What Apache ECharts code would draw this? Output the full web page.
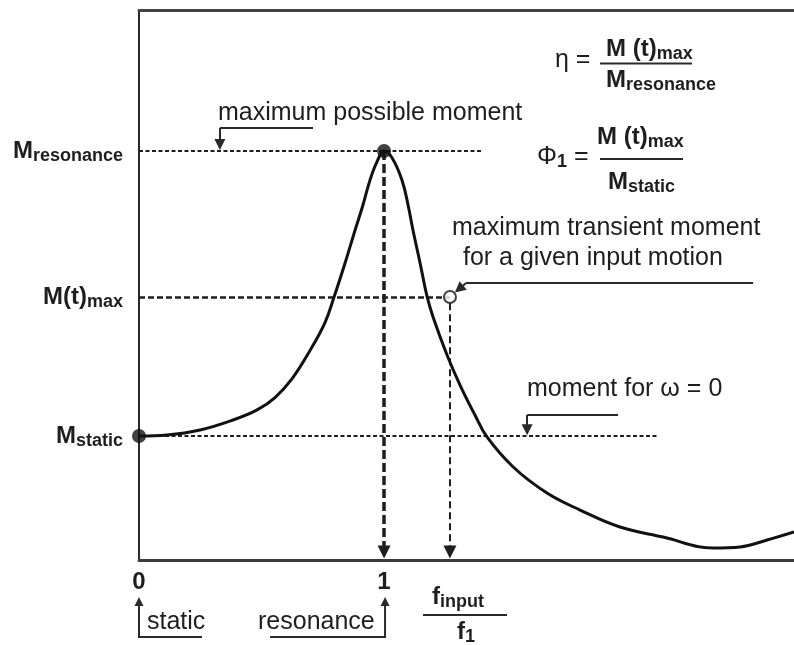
<!DOCTYPE html>
<html><head><meta charset="utf-8">
<script src="https://cdn.jsdelivr.net/npm/echarts@6/dist/echarts.min.js"></script>
<style>html,body{margin:0;padding:0;background:#fff}#c{width:794px;height:645px}</style>
</head><body><div id="c"></div>
<script>
// Response curve: frequency ratio f_input/f1 (x) vs. moment, relative to M_static (y)
const freqRatio = [0, 0.114, 0.249, 0.384, 0.482, 0.555, 0.624, 0.698, 0.759, 0.796, 0.841, 0.882, 0.914, 0.943, 0.971, 1.0,
  1.033, 1.073, 1.098, 1.118, 1.147, 1.176, 1.2, 1.257, 1.31, 1.371, 1.42, 1.527, 1.665, 1.8, 1.963, 2.139, 2.343, 2.453, 2.563, 2.673];
const moment = [1.0, 1.008, 1.048, 1.129, 1.21, 1.31, 1.46, 1.69, 1.915, 2.121, 2.395, 2.661, 2.863, 3.065, 3.21, 3.298,
  3.242, 3.065, 2.863, 2.661, 2.395, 2.121, 1.96, 1.653, 1.411, 1.169, 0.992, 0.75, 0.54, 0.403, 0.266, 0.185, 0.097, 0.105, 0.161, 0.226];

// Characteristic levels (y) and their labels
const levelValues = [1.0, 2.121, 3.298];          // M_static, M(t)_max, M_resonance
const levelMain = ['M', 'M(t)', 'M'];
const levelSub = ['static', 'max', 'resonance'];
const levelLineEnd = [2.118, 1.269, 1.404];       // how far each dashed guide runs (x)

// x ticks
const xTickValues = [0, 1];
const xTickLabels = ['0', '1'];

// Input frequency ratio of the transient point
const fInputRatio = 1.269;
const resonanceRatio = 1;

const FONT = '"Liberation Sans", Arial, sans-serif';
const INK = '#1e1e1e';

const chart = echarts.init(document.getElementById('c'), null, {renderer: 'canvas'});

const subRich = (off) => ({
  m: {fontSize: 24, fontWeight: 'bold', fontFamily: FONT, color: INK, fill: INK, lineHeight: 28},
  s: {fontSize: 18, fontWeight: 'bold', fontFamily: FONT, color: INK, fill: INK, lineHeight: 20,
      verticalAlign: 'bottom', padding: [off, 0, 0, 0]},
  n: {fontSize: 25, fontFamily: FONT, color: INK, fill: INK, lineHeight: 28}
});

const dashLevelStyles = [
  {type: [4, 2.5], width: 2, color: INK},
  {type: [6, 3], width: 2.5, color: INK},
  {type: [4, 2.5], width: 2, color: INK}
];

const option = {
  animation: false,
  grid: {left: 139, top: 10, right: 0, bottom: 85, outerBoundsMode: 'none', show: false},
  xAxis: [{
    type: 'value', min: 0, max: 2.673,
    splitLine: {show: false},
    axisLine: {show: true, onZero: false, lineStyle: {color: '#3c3c3c', width: 3}},
    axisTick: {show: false},
    axisLabel: {
      customValues: xTickValues,
      formatter: (v) => xTickLabels[xTickValues.indexOf(v)] ?? '',
      fontSize: 24, fontWeight: 'bold', fontFamily: FONT, color: INK, margin: 10
    }
  }, {
    type: 'value', min: 0, max: 2.673, position: 'top',
    splitLine: {show: false},
    axisLine: {show: true, onZero: false, lineStyle: {color: '#444', width: 3}},
    axisTick: {show: false}, axisLabel: {show: false}
  }],
  yAxis: {
    type: 'value', min: 0, max: 4.435,
    splitLine: {show: false},
    axisLine: {show: true, onZero: false, lineStyle: {color: '#2a2a2a', width: 2}},
    axisTick: {show: false},
    axisLabel: {
      customValues: levelValues,
      margin: 16,
      formatter: (v) => {
        let i = 0, best = Infinity;
        levelValues.forEach((lv, k) => { const d = Math.abs(lv - v); if (d < best) { best = d; i = k; } });
        return '{m|' + levelMain[i] + '}{s|' + levelSub[i] + '}';
      },
      rich: subRich(14)
    }
  },
  series: [
    {
      name: 'response', type: 'line', smooth: 0.4, symbol: 'none', z: 5, clip: false,
      lineStyle: {color: '#111', width: 3},
      data: freqRatio.map((x, i) => [x, moment[i]])
    },
    {
      name: 'guides', type: 'line', data: [], symbol: 'none', silent: true, z: 3,
      markLine: {
        silent: true, symbol: ['none', 'none'], label: {show: false}, animation: false,
        emphasis: {disabled: true},
        data: levelValues.map((lv, i) => [
          {coord: [0, lv], lineStyle: dashLevelStyles[i]},
          {coord: [levelLineEnd[i], lv]}
        ])
      }
    },
    {
      name: 'drops', type: 'line', data: [], symbol: 'none', silent: true, z: 3,
      markLine: {
        silent: true, symbol: ['none', 'triangle'], symbolSize: 13, label: {show: false}, animation: false,
        emphasis: {disabled: true},
        data: [
          [{coord: [resonanceRatio, levelValues[2]], lineStyle: {type: [9, 4], width: 3.5, color: INK}},
           {coord: [resonanceRatio, 0.065]}],
          [{coord: [fInputRatio, levelValues[1] - 0.05], lineStyle: {type: [7, 4], width: 2, color: INK}},
           {coord: [fInputRatio, 0.065]}]
        ]
      }
    },
    {
      name: 'callouts', type: 'line', data: [], symbol: 'none', silent: true, z: 3,
      markLine: {
        silent: true, symbol: ['none', 'none'], label: {show: false}, animation: false,
        emphasis: {disabled: true},
        lineStyle: {type: 'solid', width: 2, color: '#2a2a2a'},
        data: [
          [{coord: [0.71, 3.484]}, {coord: [0.33, 3.484]}],
          [{coord: [2.506, 2.234]}, {coord: [1.335, 2.234]}],
          [{coord: [1.955, 1.169]}, {coord: [1.584, 1.169]}]
        ]
      }
    },
    {
      name: 'calloutHeads', type: 'line', data: [], symbol: 'none', silent: true, z: 3,
      markLine: {
        silent: true, symbol: ['none', 'triangle'], symbolSize: 11, label: {show: false}, animation: false,
        emphasis: {disabled: true},
        lineStyle: {type: 'solid', width: 2, color: '#2a2a2a'},
        data: [
          [{coord: [0.33, 3.484]}, {coord: [0.33, 3.35]}],
          [{coord: [1.335, 2.234]}, {coord: [1.306, 2.185]}],
          [{coord: [1.584, 1.169]}, {coord: [1.584, 1.05]}]
        ]
      }
    },
    {
      name: 'keyPoints', type: 'scatter', clip: false, z: 6, symbolSize: 14,
      itemStyle: {color: '#111'},
      data: [[0, levelValues[0]], [resonanceRatio, levelValues[2]]]
    },
    {
      name: 'transient', type: 'scatter', clip: false, z: 6, symbolSize: 12,
      itemStyle: {color: '#fff', borderColor: '#111', borderWidth: 2},
      data: [[fInputRatio, levelValues[1]]]
    }
  ]
};
chart.setOption(option);

// Annotation graphics (text, formulas and the axis-label arrows below the chart)
const p0 = chart.convertToPixel({gridIndex: 0}, [0, 0]);
const p1 = chart.convertToPixel({gridIndex: 0}, [resonanceRatio, 0]);
const rich = subRich(14);
const richLow = subRich(6);
const txt = (x, y, text, r, extra) => ({type: 'text', x, y, silent: true, z: 20,
  style: Object.assign({text, align: 'left', verticalAlign: 'middle', fill: INK, rich: r,
    font: '25px ' + FONT}, extra || {})});
const hl = (x1, y1, x2, y2, w) => ({type: 'line', silent: true, z: 20,
  shape: {x1, y1, x2, y2}, style: {stroke: '#2a2a2a', lineWidth: w || 2}});
const upArrow = (x, tipY) => ({type: 'polygon', silent: true, z: 20,
  shape: {points: [[x, tipY], [x - 4.5, tipY + 9], [x + 4.5, tipY + 9]]}, style: {fill: '#2a2a2a'}});

const baseY = 637;
chart.setOption({
  graphic: [
    txt(218, 113, 'maximum possible moment'),
    txt(452, 228, 'maximum transient moment'),
    txt(463, 258, 'for a given input motion'),
    txt(527, 389, 'moment for ω = 0'),
    // eta
    txt(555, 60, 'η ='),
    txt(606, 49, '{m|M (t)}{s|max}', rich),
    hl(600, 63.5, 692, 63.5),
    txt(606, 80, '{m|M}{s|resonance}', rich),
    // phi
    txt(537, 157, '{n|Φ}{s|1}{n| =}', subRich(12)),
    txt(597, 137, '{m|M (t)}{s|max}', rich),
    hl(600, 159, 683, 159),
    txt(608, 182, '{m|M}{s|static}', rich),
    // f_input / f1
    txt(432, 597, '{m|f}{s|input}', richLow),
    hl(423, 615, 507, 615),
    txt(457, 632, '{m|f}{s|1}', richLow),
    // static / resonance markers
    txt(147, 622, 'static'),
    txt(258, 622, 'resonance'),
    {type: 'polyline', silent: true, z: 20, shape: {points: [[p0[0] + 63, baseY], [p0[0], baseY], [p0[0], 604]]},
      style: {stroke: '#2a2a2a', lineWidth: 2, fill: null}},
    upArrow(p0[0], 597),
    {type: 'polyline', silent: true, z: 20, shape: {points: [[p1[0] - 114, baseY], [p1[0] + 1, baseY], [p1[0] + 1, 604]]},
      style: {stroke: '#2a2a2a', lineWidth: 2, fill: null}},
    upArrow(p1[0] + 1, 597)
  ]
});
</script></body></html>
